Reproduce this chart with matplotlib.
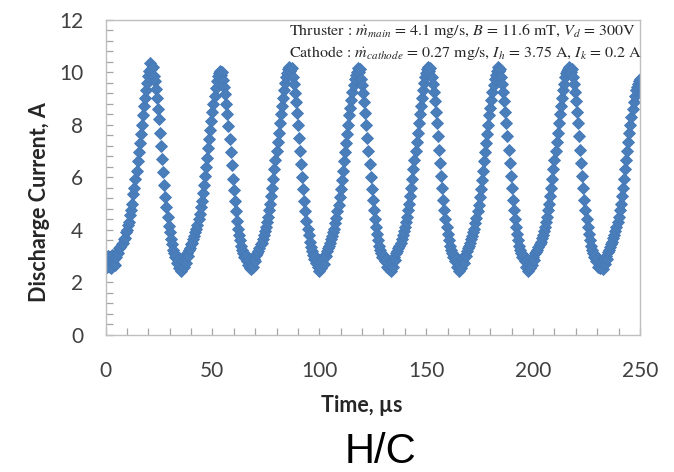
import numpy as np
import matplotlib
matplotlib.use("Agg")
import matplotlib.pyplot as plt
from matplotlib.ticker import MultipleLocator

# Sampling of the discharge-current trace
t_start_us = 0.0
dt_us = 0.5

# Discharge current [A], one list per segment (peak -> trough -> next peak)
rise_0 = [2.9, 2.6, 3.0, 2.7, 2.8, 2.55, 3.05, 2.75, 2.9, 2.65,
          2.95, 3.15, 3.1, 3.3, 3.35, 3.45, 3.5, 3.65, 3.7, 3.9, 4.0, 4.2,
          4.3, 4.55, 4.75, 5.0, 5.35, 5.6, 5.95, 6.25, 6.6, 6.95, 7.3, 7.65,
          8.0, 8.35, 8.7, 9.0, 9.3, 9.6, 9.85, 10.05]
cycle_1 = [10.35, 10.1, 10.2, 9.85, 9.65, 9.35, 9.0, 8.6, 8.2, 7.7, 7.2, 6.7,
           6.2, 5.7, 5.25, 4.85, 4.5, 4.15, 3.9, 3.65, 3.45, 3.25, 3.1, 2.95,
           3.05, 2.75, 2.85, 2.55, 2.7,
           2.45, 2.8, 2.6, 2.95, 2.75, 3.1, 3.0, 3.25, 3.3, 3.45, 3.5, 3.65,
           3.75, 3.9, 4.05, 4.2, 4.4, 4.6, 4.85, 5.1, 5.4, 5.7, 6.05, 6.4,
           6.75, 7.1, 7.45, 7.8, 8.15, 8.5, 8.8, 9.1, 9.4, 9.65, 9.85, 9.95]
cycle_2 = [10.05, 9.9, 10.0, 9.7, 9.45, 9.15, 8.8, 8.4, 7.95, 7.45, 6.95, 6.45,
           5.95, 5.5, 5.1, 4.7, 4.35, 4.05, 3.8, 3.6, 3.4, 3.25, 3.1, 2.95,
           3.05, 2.8, 2.65, 2.85, 2.55,
           2.5, 2.75, 2.6, 2.9, 2.8, 3.05, 3.1, 3.2, 3.3, 3.45, 3.5, 3.65,
           3.8, 3.95, 4.1, 4.3, 4.5, 4.75, 5.0, 5.3, 5.6, 5.95, 6.3, 6.65,
           7.0, 7.35, 7.7, 8.05, 8.4, 8.7, 9.0, 9.3, 9.6, 9.8, 9.95, 10.1]
cycle_3 = [10.2, 10.05, 10.15, 9.8, 9.55, 9.2, 8.85, 8.45, 8.0, 7.5, 7.0, 6.5,
           6.0, 5.55, 5.1, 4.7, 4.35, 4.05, 3.8, 3.55, 3.35, 3.2, 3.05, 2.9,
           3.0, 2.75, 2.85, 2.6,
           2.45, 2.8, 2.55, 2.9, 2.7, 3.05, 3.0, 3.2, 3.3, 3.4, 3.5, 3.65,
           3.75, 3.9, 4.05, 4.25, 4.45, 4.7, 4.95, 5.25, 5.55, 5.9, 6.25, 6.6,
           6.95, 7.3, 7.65, 8.0, 8.35, 8.65, 8.95, 9.25, 9.5, 9.75, 9.9, 10.0]
cycle_4 = [10.15, 10.0, 10.1, 9.75, 9.5, 9.2, 8.85, 8.45, 8.0, 7.5, 7.0, 6.5,
           6.0, 5.55, 5.15, 4.75, 4.4, 4.1, 3.85, 3.6, 3.4, 3.25, 3.1, 2.95,
           3.05, 2.8, 2.9, 2.6, 2.75, 2.5,
           2.65, 2.45, 2.8, 2.6, 2.95, 2.85, 3.1, 3.2, 3.3, 3.4, 3.5, 3.65,
           3.8, 3.95, 4.1, 4.3, 4.5, 4.75, 5.0, 5.3, 5.6, 5.95, 6.3, 6.65,
           7.0, 7.35, 7.7, 8.05, 8.4, 8.7, 9.0, 9.3, 9.6, 9.8, 9.95, 10.1]
cycle_5 = [10.2, 10.05, 10.15, 9.8, 9.55, 9.25, 8.9, 8.5, 8.05, 7.55, 7.05, 6.55,
           6.05, 5.6, 5.15, 4.75, 4.4, 4.1, 3.85, 3.6, 3.4, 3.25, 3.1, 2.95,
           3.05, 2.8, 2.9, 2.6, 2.75,
           2.45, 2.7, 2.55, 2.9, 2.75, 3.05, 3.0, 3.2, 3.3, 3.4, 3.5, 3.65,
           3.75, 3.9, 4.05, 4.25, 4.45, 4.7, 4.95, 5.25, 5.55, 5.9, 6.25, 6.6,
           6.95, 7.3, 7.65, 8.0, 8.35, 8.65, 8.95, 9.25, 9.5, 9.75, 9.9, 10.05]
cycle_6 = [10.2, 10.05, 10.1, 9.8, 9.55, 9.25, 8.9, 8.5, 8.05, 7.55, 7.05, 6.55,
           6.05, 5.6, 5.15, 4.75, 4.4, 4.1, 3.85, 3.6, 3.4, 3.25, 3.1, 2.95,
           3.05, 2.8, 2.6, 2.85, 2.45, 2.7,
           2.55, 2.8, 2.65, 2.95, 2.85, 3.1, 3.15, 3.25, 3.35, 3.45, 3.55, 3.7,
           3.8, 3.95, 4.1, 4.3, 4.5, 4.75, 5.0, 5.3, 5.6, 5.95, 6.3, 6.65,
           7.0, 7.35, 7.7, 8.05, 8.4, 8.7, 9.0, 9.3, 9.55, 9.8, 9.95, 10.05, 10.1]
cycle_7 = [10.2, 10.0, 10.1, 9.8, 9.55, 9.25, 8.9, 8.5, 8.05, 7.55, 7.05, 6.55,
           6.05, 5.6, 5.15, 4.75, 4.4, 4.1, 3.85, 3.6, 3.4, 3.25, 3.1, 2.95,
           3.05, 2.8, 2.9, 2.6, 2.75, 2.55,
           2.7, 2.5, 2.85, 2.7, 3.0, 2.9, 3.15, 3.25, 3.35, 3.45, 3.55, 3.7,
           3.8, 3.95, 4.1, 4.3, 4.5, 4.75, 5.0, 5.3, 5.6, 5.95, 6.3, 6.65,
           7.0, 7.35, 7.7, 8.0, 8.3, 8.6, 8.85, 9.1, 9.3, 9.45, 9.55, 9.65, 9.75]

current_A = np.concatenate([rise_0, cycle_1, cycle_2, cycle_3, cycle_4,
                            cycle_5, cycle_6, cycle_7])
time_us = t_start_us + dt_us * np.arange(current_A.size)

x_ticks = [0, 50, 100, 150, 200, 250]
y_ticks = [0, 2, 4, 6, 8, 10, 12]

W, H = 674, 472
fig = plt.figure(figsize=(W / 100, H / 100), dpi=100)
fig.patch.set_facecolor("white")

ax_l, ax_r, ax_t, ax_b = 105.5, 640.0, 19.5, 335.0
ax = fig.add_axes([ax_l / W, 1 - ax_b / H, (ax_r - ax_l) / W, (ax_b - ax_t) / H])

ax.plot(time_us, current_A, linestyle="none", marker="D", markersize=6.0,
        color="#4A7EBB", markeredgecolor="#4579B8", markeredgewidth=0.6)

ax.set_xlim(0, 250)
ax.set_ylim(0, 12)
ax.set_xticks(x_ticks)
ax.set_yticks(y_ticks)
ax.xaxis.set_minor_locator(MultipleLocator(10))
ax.yaxis.set_minor_locator(MultipleLocator(0.4))

frame_col = "#BFBFBF"
for s in ax.spines.values():
    s.set_color(frame_col)
    s.set_linewidth(1.0)

tick_family = ["Lato", "DejaVu Sans"]
ax.tick_params(axis="both", which="both", direction="in", color="#A6A6A6",
               width=0.9, top=False, right=False, length=5)
ax.tick_params(axis="x", which="major", pad=19, labelcolor="#404040")
ax.tick_params(axis="y", which="major", pad=16, labelcolor="#404040")
for lab in ax.get_xticklabels() + ax.get_yticklabels():
    lab.set_fontfamily(tick_family)
    lab.set_fontsize(15)

label_font = dict(family=["Lato", "DejaVu Sans"], size=15.5, weight="bold",
                  color="#262626")
fig.text(40 / W, 1 - 202 / H, "Discharge Current, A", rotation=90,
         ha="center", va="center", **label_font)
fig.text(362 / W, 1 - 405 / H, "Time, µs", ha="center", va="center",
         **label_font)

fig.text(380 / W, 1 - 463 / H, "H/C", ha="center", va="baseline",
         family="Liberation Sans", size=30, color="#000000")

plt.rcParams["mathtext.fontset"] = "stix"
note_kw = dict(family="STIXGeneral", size=11.5, color="#262626",
               ha="left", va="center")
fig.text(289 / W, 1 - 31 / H,
         r"Thruster : $\dot{m}_{main}$ = 4.1 mg/s, $B$ = 11.6 mT, $V_d$ = 300V",
         **note_kw)
fig.text(289 / W, 1 - 53 / H,
         r"Cathode : $\dot{m}_{cathode}$ = 0.27 mg/s, $I_h$ = 3.75 A, $I_k$ = 0.2 A",
         **note_kw)

fig.savefig("out.png", dpi=100, facecolor="white")
